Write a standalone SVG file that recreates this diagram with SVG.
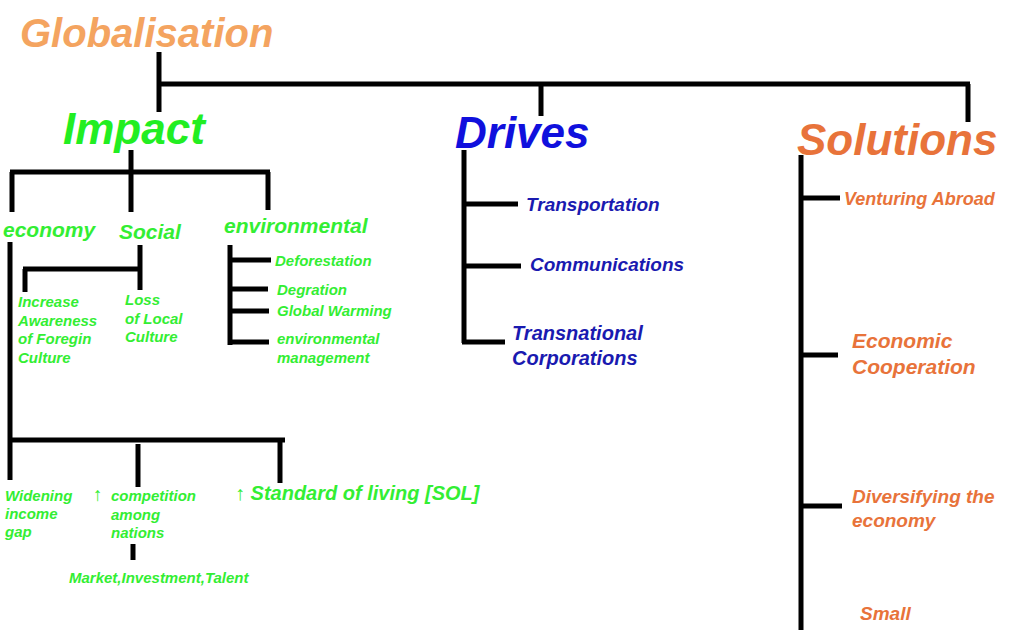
<svg xmlns="http://www.w3.org/2000/svg" width="1024" height="630" viewBox="0 0 1024 630">
<style>
text{font-family:"Liberation Sans",Arial,sans-serif;font-weight:bold;font-style:italic}
.g{fill:#33ee33}.b{fill:#1a1ab0}.o{fill:#e8733a}
.s{font-size:15px}
line{stroke:#000;stroke-width:5}
</style>
<rect width="1024" height="630" fill="#fff"/>
<g id="connectors">
<line x1="159" y1="52" x2="159" y2="112"/><line x1="157" y1="84" x2="970" y2="84"/>
<line x1="541" y1="84" x2="541" y2="116"/><line x1="968" y1="84" x2="968" y2="122"/>
<line x1="131" y1="150" x2="131" y2="212"/><line x1="10" y1="172" x2="270" y2="172"/>
<line x1="12" y1="172" x2="12" y2="212"/><line x1="268" y1="172" x2="268" y2="210"/>
<line x1="10" y1="242" x2="10" y2="480"/><line x1="8" y1="440" x2="285" y2="440"/>
<line x1="138" y1="444" x2="138" y2="487"/><line x1="280" y1="440" x2="280" y2="483"/>
<line x1="133" y1="544" x2="133" y2="560"/>
<line x1="140" y1="245" x2="140" y2="290"/><line x1="23" y1="269" x2="140" y2="269"/><line x1="25" y1="269" x2="25" y2="292"/>
<line x1="230" y1="245" x2="230" y2="345"/><line x1="230" y1="260" x2="271" y2="260"/><line x1="230" y1="289" x2="268" y2="289"/>
<line x1="230" y1="311" x2="269" y2="311"/><line x1="228" y1="342" x2="269" y2="342"/>
<line x1="464" y1="150" x2="464" y2="343"/><line x1="464" y1="204" x2="518" y2="204"/><line x1="464" y1="266" x2="521" y2="266"/><line x1="462" y1="342" x2="505" y2="342"/>
<line x1="801" y1="155" x2="801" y2="630"/><line x1="801" y1="198" x2="840" y2="198"/><line x1="801" y1="355" x2="838" y2="355"/><line x1="801" y1="506" x2="842" y2="506"/>
</g>
<g id="title"><text x="20" y="47" font-size="40" fill="#f4a460">Globalisation</text></g>
<g id="impact"><text x="63" y="144" font-size="44" fill="#22ee22">Impact</text></g>
<g id="drives"><text x="455" y="148" font-size="44" fill="#1010dd">Drives</text></g>
<g id="solutions"><text x="797" y="155" font-size="44" class="o">Solutions</text></g>
<g id="economy"><text x="3" y="237" font-size="21" class="g">economy</text></g>
<g id="social"><text x="119" y="239" font-size="21" class="g">Social</text></g>
<g id="environmental"><text x="224" y="233" font-size="21" class="g">environmental</text></g>
<g id="awareness" class="s"><text x="18" y="307" class="g">Increase</text><text x="18" y="326" class="g">Awareness</text><text x="18" y="344" class="g">of Foregin</text><text x="18" y="363" class="g">Culture</text></g>
<g id="loss" class="s"><text x="125" y="305" class="g">Loss</text><text x="125" y="324" class="g">of Local</text><text x="125" y="342" class="g">Culture</text></g>
<g id="env-items" class="s"><text x="275" y="266" class="g">Deforestation</text><text x="277" y="295" class="g">Degration</text><text x="277" y="316" class="g">Global Warming</text><text x="277" y="344" class="g">environmental</text><text x="277" y="363" class="g">management</text></g>
<g id="widening" class="s"><text x="5" y="501" class="g">Widening</text><text x="5" y="519" class="g">income</text><text x="5" y="537" class="g">gap</text></g>
<g id="competition" class="s"><text x="93" y="501" font-size="19" class="g" style="font-style:normal;font-weight:normal">↑</text><text x="111" y="501" class="g">competition</text><text x="111" y="520" class="g">among</text><text x="111" y="538" class="g">nations</text></g>
<g id="market"><text x="69" y="583" class="s g">Market,Investment,Talent</text></g>
<g id="sol"><text x="235" y="500" font-size="20" class="g"><tspan style="font-style:normal;font-weight:normal">↑</tspan> Standard of living [SOL]</text></g>
<g id="transportation"><text x="526" y="211" font-size="19" class="b">Transportation</text></g>
<g id="communications"><text x="530" y="271" font-size="19" class="b">Communications</text></g>
<g id="tnc"><text x="512" y="340" font-size="20" class="b">Transnational</text><text x="512" y="365" font-size="20" class="b">Corporations</text></g>
<g id="venturing"><text x="844" y="205" font-size="18" class="o">Venturing Abroad</text></g>
<g id="cooperation"><text x="852" y="348" font-size="21" class="o">Economic</text><text x="852" y="374" font-size="21" class="o">Cooperation</text></g>
<g id="diversifying"><text x="852" y="503" font-size="19" class="o">Diversifying the</text><text x="852" y="527" font-size="19" class="o">economy</text></g>
<g id="small"><text x="860" y="620" font-size="19" class="o">Small</text></g>
</svg>
